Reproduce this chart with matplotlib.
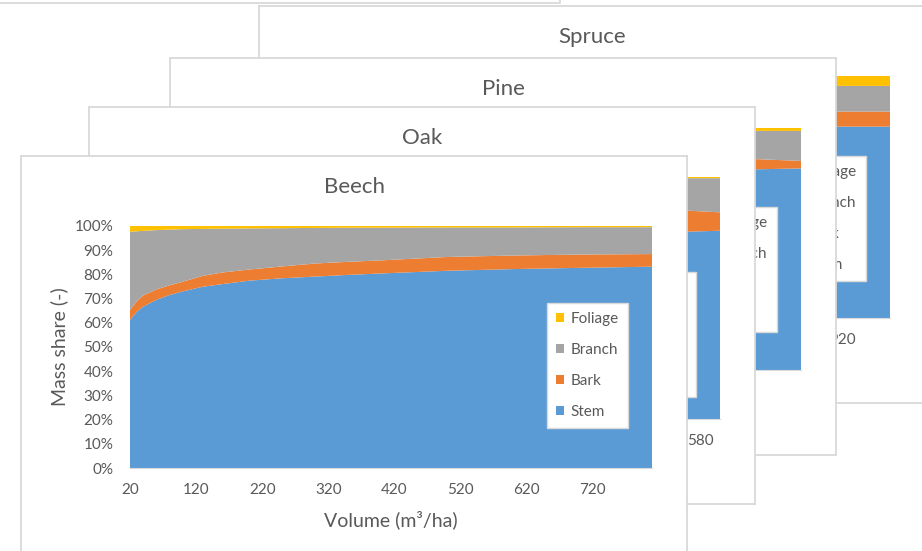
import matplotlib
matplotlib.use("Agg")
import matplotlib.pyplot as plt
from matplotlib.patches import Patch
from matplotlib.lines import Line2D

plt.rcParams['font.family'] = ['Lato', 'DejaVu Sans']

# component order (bottom to top)
components = ["Stem", "Bark", "Branch", "Foliage"]
colors = ["#5B9BD5", "#ED7D31", "#A5A5A5", "#FFC000"]
pct_labels = ["0%", "10%", "20%", "30%", "40%", "50%", "60%", "70%", "80%", "90%", "100%"]

# Beech - mass shares in % over stand volume (m3/ha)
beech_x = [20, 30, 40, 60, 80, 100, 130, 160, 200, 250, 300, 350, 400, 500, 600, 700, 810]
beech_stem = [61.2, 64.5, 66.7, 69.5, 71.5, 73.0, 74.9, 76.0, 77.4, 78.4, 79.1, 79.8, 80.4, 81.5, 82.2, 82.7, 83.2]
beech_bark = [4.1, 4.3, 4.6, 4.3, 4.0, 4.0, 4.5, 4.8, 4.6, 4.9, 5.4, 5.4, 5.4, 5.7, 5.6, 5.5, 5.2]
beech_branch = [32.3, 29.0, 26.7, 24.5, 23.0, 21.7, 19.4, 18.1, 17.0, 15.8, 14.7, 14.1, 13.5, 12.2, 11.6, 11.3, 11.1]
beech_foliage = [2.4, 2.2, 2.0, 1.7, 1.5, 1.3, 1.2, 1.1, 1.0, 0.9, 0.8, 0.7, 0.7, 0.6, 0.6, 0.5, 0.5]
beech_ticks = [20, 120, 220, 320, 420, 520, 620, 720]

# Oak
oak_x = [80, 120, 200, 300, 420, 567, 600]
oak_stem = [58.0, 64.0, 70.0, 73.5, 76.0, 77.4, 77.8]
oak_bark = [9.5, 9.4, 9.2, 9.0, 8.9, 8.7, 7.6]
oak_branch = [31.0, 25.4, 20.1, 17.0, 14.6, 13.4, 14.1]
oak_foliage = [1.5, 1.2, 0.7, 0.5, 0.5, 0.5, 0.5]
oak_ticks = [80, 180, 280, 380, 480, 580]

# Pine
pine_x = [20, 60, 150, 300, 450, 645, 710]
pine_stem = [64.0, 70.0, 75.5, 79.0, 81.2, 82.9, 83.3]
pine_bark = [6.0, 5.6, 5.0, 4.7, 4.5, 4.3, 3.1]
pine_branch = [26.0, 21.8, 17.9, 14.8, 13.1, 11.6, 12.4]
pine_foliage = [4.0, 2.6, 1.6, 1.5, 1.2, 1.2, 1.2]
pine_ticks = [20, 120, 220, 320, 420, 520, 620]

# Spruce
spruce_x = [20, 80, 200, 400, 650, 900, 1010]
spruce_stem = [60.0, 67.0, 72.5, 76.0, 78.0, 79.1, 79.1]
spruce_bark = [7.5, 7.2, 6.8, 6.5, 6.3, 6.2, 6.2]
spruce_branch = [23.5, 18.8, 14.7, 12.5, 11.5, 10.6, 10.6]
spruce_foliage = [9.0, 7.0, 6.0, 5.0, 4.2, 4.1, 4.1]
spruce_ticks = [20, 120, 220, 320, 420, 520, 620, 720, 820, 920]

W, H = 922, 551
CARD_W, CARD_H = 666, 397
TXT = "#595959"
EDGE = "#D9D9D9"


def fig_rect(left, top, width, height):
    return [left / W, 1 - (top + height) / H, width / W, height / H]


def draw_card(fig, z, title, left, top, legend_top, x, stem, bark, branch, foliage, ticks):
    # white chart window with a thin grey frame
    card = fig.add_axes(fig_rect(left, top, CARD_W, CARD_H))
    card.set_zorder(2 * z)
    card.set_xlim(0, CARD_W)
    card.set_ylim(CARD_H, 0)
    card.set_xticks([])
    card.set_yticks([])
    for s in card.spines.values():
        s.set_color(EDGE)
        s.set_linewidth(1.3)
    card.text(CARD_W / 2, 31, title, ha="center", va="center", fontsize=16, color=TXT)
    card.text(38, 191, "Mass share (-)", rotation=90, ha="center", va="center", fontsize=14, color=TXT)
    card.text(370, 364, "Volume (m³/ha)", ha="center", va="center", fontsize=14, color=TXT)

    ax = fig.add_axes(fig_rect(left + 109, top + 70, 522, 242))
    ax.set_zorder(2 * z + 1)
    ax.stackplot(x, stem, bark, branch, foliage, colors=colors, linewidth=0)
    ax.set_xlim(x[0], x[-1])
    ax.set_ylim(0, 100)
    ax.set_yticks(range(0, 101, 10))
    ax.set_yticklabels(pct_labels)
    ax.set_xticks(ticks)
    ax.set_xticklabels([str(t) for t in ticks])
    ax.tick_params(length=0, labelsize=11, labelcolor=TXT)
    ax.tick_params(axis="x", pad=11)
    ax.tick_params(axis="y", pad=12)
    for name, s in ax.spines.items():
        if name == "bottom":
            s.set_color(EDGE)
        else:
            s.set_visible(False)

    handles = [Patch(facecolor=c, edgecolor="none") for c in colors][::-1]
    leg = ax.legend(handles, components[::-1], loc="upper right",
                    bbox_to_anchor=((left + 607) / W, 1 - (top + legend_top) / H),
                    bbox_transform=fig.transFigure, borderaxespad=0,
                    fontsize=11, handlelength=0.5, handleheight=0.5,
                    handletextpad=0.45, labelspacing=1.1, borderpad=0.6,
                    fancybox=False, framealpha=1, edgecolor=EDGE)
    for t in leg.get_texts():
        t.set_color(TXT)
    return ax


fig = plt.figure(figsize=(W / 100, H / 100), dpi=100)

# edge of the window behind the charts
fig.add_artist(Line2D([0, 560 / W, 560 / W], [1 - 3 / H, 1 - 3 / H, 1], color=EDGE, lw=1.3,
                      transform=fig.transFigure))

draw_card(fig, 1, "Spruce", 259, 6, 150, spruce_x, spruce_stem, spruce_bark, spruce_branch, spruce_foliage, spruce_ticks)
draw_card(fig, 2, "Pine", 170, 58, 149, pine_x, pine_stem, pine_bark, pine_branch, pine_foliage, pine_ticks)
draw_card(fig, 3, "Oak", 89, 107, 165, oak_x, oak_stem, oak_bark, oak_branch, oak_foliage, oak_ticks)
draw_card(fig, 4, "Beech", 21, 156, 147, beech_x, beech_stem, beech_bark, beech_branch, beech_foliage, beech_ticks)

fig.savefig("out.png", dpi=100)
